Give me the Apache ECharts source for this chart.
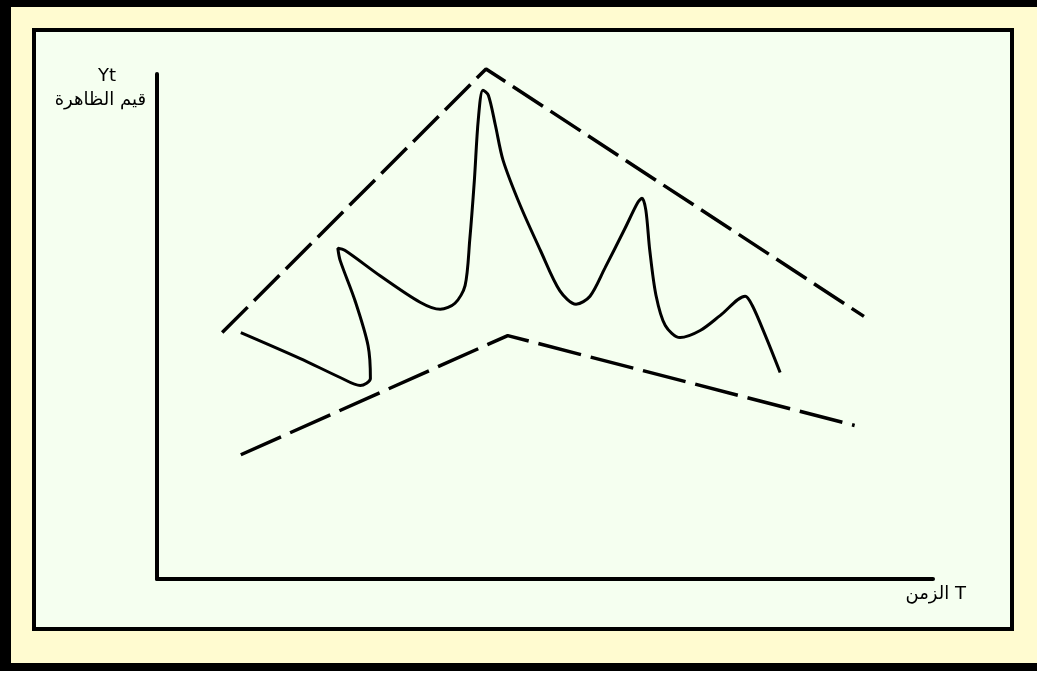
<!DOCTYPE html>
<html>
<head>
<meta charset="utf-8">
<script src="https://cdn.jsdelivr.net/npm/echarts@6/dist/echarts.min.js"></script>
<style>
  html, body { margin: 0; padding: 0; background: #ffffff; overflow: hidden; }
  #chart { width: 1037px; height: 675px; }
</style>
</head>
<body>
<div id="chart"></div>
<script>
// upper trend line (dashed)
var upperT = [8.4, 42.4, 91.1];
var upperY = [48.8, 101.0, 52.0];
// lower trend line (dashed)
var lowerT = [10.8, 45.2, 89.9];
var lowerY = [24.6, 48.2, 30.4];
// the phenomenon values Yt over time T
var waveT = [10.8, 18.4, 23.6, 26.2, 27.5, 27.2, 25.5, 23.6, 23.3, 24.2, 28.7, 33.9, 36.5, 38.4, 39.7, 40.3, 40.9, 41.4, 42.0, 42.7, 43.6, 44.6, 46.8, 49.4, 51.9, 54.0, 55.8, 57.7, 60.3, 61.9, 62.5, 63.0, 63.5, 64.3, 65.5, 67.4, 70.0, 72.6, 75.8, 76.7, 78.4, 80.3];
var waveY = [48.8, 43.7, 39.9, 38.3, 39.7, 46.2, 55.2, 63.1, 65.5, 65.1, 60.1, 54.8, 53.4, 54.6, 58.1, 67.1, 79.0, 90.9, 96.8, 95.8, 89.9, 82.9, 74.0, 65.1, 57.1, 54.4, 56.0, 61.5, 69.4, 74.4, 75.4, 73.0, 65.1, 56.2, 50.2, 47.8, 49.2, 52.2, 56.0, 54.2, 48.2, 40.9];

function pairs(xs, ys) {
  var out = [];
  for (var i = 0; i < xs.length; i++) out.push([xs[i], ys[i]]);
  return out;
}

var chart = echarts.init(document.getElementById("chart"));
var font = "Tahoma, 'DejaVu Sans', Arial, sans-serif";

chart.setOption({
  animation: false,
  backgroundColor: "#ffffff",
  graphic: [
    { type: "rect", z: -10, shape: { x: 0, y: 0, width: 1060, height: 671 }, style: { fill: "#000000" } },
    { type: "rect", z: -9, shape: { x: 11, y: 7, width: 1060, height: 656 }, style: { fill: "#FFFBD0" } },
    { type: "rect", z: -8, shape: { x: 34, y: 30, width: 978, height: 599 },
      style: { fill: "#F5FFF0", stroke: "#000000", lineWidth: 4 } },
    { type: "text", x: 107, y: 67, style: { text: "Yt", font: "18px " + font, fill: "#000", align: "center" } },
    { type: "text", x: 146, y: 91, style: { text: "قيم الظاهرة", font: "18px " + font, fill: "#000", align: "right" } },
    { type: "text", x: 966, y: 585, style: { text: "الزمن T", font: "18px " + font, fill: "#000", align: "right" } }
  ],
  grid: { left: 157, top: 74, right: 104, bottom: 96 },
  xAxis: {
    type: "value",
    min: 0,
    max: 100,
    axisLine: { lineStyle: { color: "#000", width: 4 } },
    axisTick: { show: false },
    axisLabel: { show: false },
    splitLine: { show: false }
  },
  yAxis: {
    type: "value",
    min: 0,
    max: 100,
    axisLine: { show: true, lineStyle: { color: "#000", width: 4 } },
    axisTick: { show: false },
    axisLabel: { show: false },
    splitLine: { show: false }
  },
  series: [
    {
      type: "line",
      data: pairs(upperT, upperY),
      clip: false,
      showSymbol: false,
      lineStyle: { color: "#000", width: 3.5, type: [36, 9] }
    },
    {
      type: "line",
      data: pairs(lowerT, lowerY),
      clip: false,
      showSymbol: false,
      lineStyle: { color: "#000", width: 3.5, type: [44, 10] }
    },
    {
      type: "line",
      data: pairs(waveT, waveY),
      clip: false,
      smooth: 0.3,
      showSymbol: false,
      lineStyle: { color: "#000", width: 3 }
    }
  ]
});
</script>
</body>
</html>
